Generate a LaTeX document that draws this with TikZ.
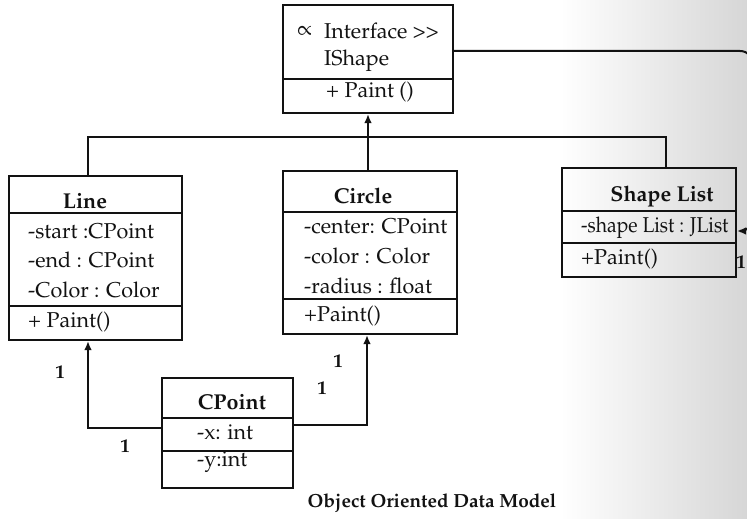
\documentclass[tikz,border=0pt]{standalone}
\usepackage[T1]{fontenc}
\usepackage{mathpazo}
\usetikzlibrary{arrows.meta}
\definecolor{ink}{gray}{0.07}
\begin{document}
\begin{tikzpicture}[x=1pt,y=-1pt,
  every node/.style={text=ink, font=\fontsize{21.5}{24}\selectfont},
  umlbox/.style={draw=ink, line width=2pt, inner sep=0pt},
  member/.style={anchor=west, inner sep=0pt},
  title/.style={inner sep=0pt, font=\fontsize{21.5}{24}\selectfont\bfseries},
  mult/.style={inner sep=0pt, font=\fontsize{19}{20}\selectfont\bfseries},
  caption/.style={inner sep=0pt, font=\fontsize{19}{22}\selectfont\bfseries},
  divider/.style={draw=ink, line width=2pt},
  conn/.style={draw=ink, line width=2pt},
  arr/.style={conn, -{Latex[length=9pt,width=7.5pt]}}]

% page and the grey tint towards the right edge
\fill[white] (0,0) rectangle (747,519);
\useasboundingbox (0,0) rectangle (747,519);
\shade[left color=white, right color=black!16] (560,0) rectangle (747,519);

% ---------- classes ----------
% IShape
\node[umlbox, minimum width=170pt, minimum height=108pt] (ishape) at (368,59) {};
\draw[divider] (283,79) -- (453,79);
\node[member] (isSym) at (297,31) {$\propto$};
\node[member] (isStereo) at (324,31) {Interface {>}{>}};
\node[member] (isName) at (324,61) {IShape};
\node[member] (isOp) at (326,92) {+ Paint ()};

% Line
\node[umlbox, minimum width=173pt, minimum height=164pt] (line) at (95.5,258) {};
\draw[divider] (9,213) -- (182,213);
\draw[divider] (9,306) -- (182,306);
\node[title] (lnT) at (85,201) {Line};
\node[member] (lnA1) at (28,231) {-start :CPoint};
\node[member] (lnA2) at (28,260) {-end : CPoint};
\node[member] (lnA3) at (28,290) {-Color : Color};
\node[member] (lnOp) at (28,322) {+ Paint()};

% Circle
\node[umlbox, minimum width=174pt, minimum height=163pt] (circle) at (370,252.5) {};
\draw[divider] (283,212) -- (457,212);
\draw[divider] (283,299) -- (457,299);
\node[title] (ciT) at (363,196) {Circle};
\node[member] (ciA1) at (304,226) {-center: CPoint};
\node[member] (ciA2) at (304,256) {-color : Color};
\node[member] (ciA3) at (304,286) {-radius : float};
\node[member] (ciOp) at (304,316) {+Paint()};

% Shape List
\node[umlbox, minimum width=174pt, minimum height=109pt] (shapelist) at (649,222.5) {};
\draw[divider] (562,211) -- (736,211);
\draw[divider] (562,243) -- (736,243);
\node[title] (slT) at (662,196) {Shape List};
\node[member] (slA1) at (581,228) {\scalebox{0.9}[1]{-shape List : JList}};
\node[member] (slOp) at (581,259) {+Paint()};

% CPoint
\node[umlbox, minimum width=131pt, minimum height=110pt] (cpoint) at (227.5,433) {};
\draw[divider] (162,418) -- (293,418);
\draw[divider] (162,451) -- (293,451);
\node[title] (cpT) at (232,402) {CPoint};
\node[member] (cpA1) at (197,432) {-x: int};
\node[member] (cpA2) at (197,462) {-y:int};

% ---------- connectors ----------
\coordinate (busY) at (0,137);
\coordinate (edgeX) at (754,0);
\path (line.north) ++(-7.5,0) coordinate (lineTop);
\path (line.south) ++(-7.5,0) coordinate (lineBot);
\path (shapelist.north) ++(17,0) coordinate (slTop);
\path (circle.south) ++(-3,0) coordinate (circBot);
\path (cpoint.west) ++(0,-5) coordinate (cpL);
\path (cpoint.east) ++(0,-8) coordinate (cpR);
\path (ishape.east) ++(0,-8) coordinate (isR);
\path (shapelist.east) ++(0,8.5) coordinate (slR);

% realisation of IShape
\draw[conn] (lineTop) |- (busY -| slTop) -- (slTop);
\draw[arr] (circle.north -| ishape.south) -- (ishape.south);

% IShape held by Shape List
\draw[arr, rounded corners=14pt] (isR) -| (slR -| edgeX) -- (slR);

% CPoint used by Line and Circle
\draw[arr] (cpL) -| (lineBot);
\draw[arr] (cpR) -| (circBot);

% multiplicities
\node[mult] (m1) at (60,372) {1};
\node[mult] (m2) at (125,446) {1};
\node[mult] (m3) at (338,361) {1};
\node[mult] (m4) at (322,388) {1};
\node[mult] (m5) at (741,262) {1};

% caption
\node[caption] (cap) at (432,503) {Object Oriented Data Model};
\end{tikzpicture}
\end{document}
